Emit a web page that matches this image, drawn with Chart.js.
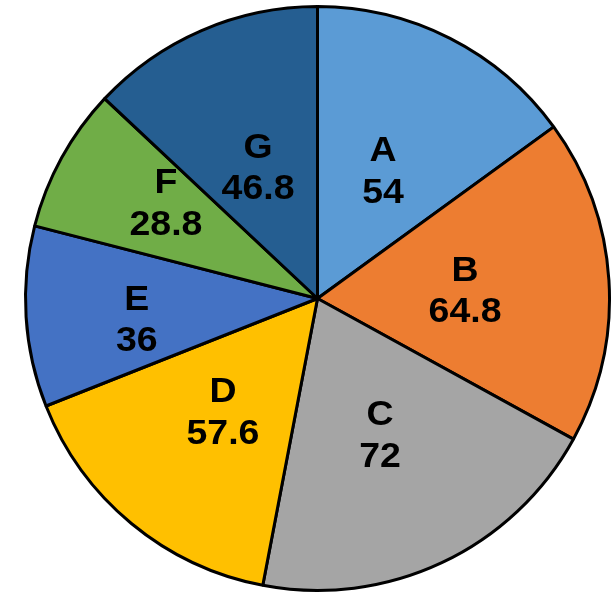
<!DOCTYPE html>
<html>
<head>
<meta charset="utf-8">
<script src="https://cdn.jsdelivr.net/npm/chart.js@4.4.1/dist/chart.umd.min.js"></script>
<style>
  html, body { margin: 0; padding: 0; background: #ffffff; }
  #wrap { position: absolute; left: 0; top: 0; width: 613px; height: 597px; }
</style>
</head>
<body>
<div id="wrap"><canvas id="c" width="613" height="597"></canvas></div>
<script>
const categories = ['A', 'B', 'C', 'D', 'E', 'F', 'G'];
const values = [54, 64.8, 72, 57.6, 36, 28.8, 46.8];
const valueLabels = ['54', '64.8', '72', '57.6', '36', '28.8', '46.8'];
const colors = ['#5B9BD5', '#ED7D31', '#A5A5A5', '#FFC000', '#4472C4', '#70AD47', '#255E91'];
// label placement style (fraction of radius, angle nudge in degrees)
const labelRadiusFrac = [0.489, 0.506, 0.516, 0.507, 0.623, 0.612, 0.491];
const labelAngleNudge = [0.3, 0.7, 0.7, 0.1, -3.2, 3.2, -1.1];

const labelPlugin = {
  id: 'sliceLabels',
  afterDatasetsDraw(chart) {
    const ctx = chart.ctx;
    const meta = chart.getDatasetMeta(0);
    ctx.save();
    ctx.fillStyle = '#000000';
    ctx.font = 'bold 35px "Liberation Sans", Arial, sans-serif';
    ctx.textAlign = 'center';
    ctx.textBaseline = 'middle';
    meta.data.forEach((arc, i) => {
      const p = arc.getProps(['x', 'y', 'startAngle', 'endAngle', 'outerRadius'], true);
      const mid = (p.startAngle + p.endAngle) / 2 + labelAngleNudge[i] * Math.PI / 180;
      const r = p.outerRadius * labelRadiusFrac[i];
      const cx = p.x + Math.cos(mid) * r;
      const cy = p.y + Math.sin(mid) * r;
      ctx.save();
      ctx.translate(cx, cy);
      ctx.scale(1.07, 1);
      ctx.fillText(categories[i], 0, -20);
      ctx.fillText(valueLabels[i], 0, 21.5);
      ctx.restore();
    });
    ctx.restore();
  }
};

new Chart(document.getElementById('c'), {
  type: 'pie',
  data: {
    labels: categories,
    datasets: [{
      data: values,
      backgroundColor: colors,
      borderColor: '#000000',
      borderWidth: 3
    }]
  },
  options: {
    responsive: false,
    animation: false,
    layout: { padding: { left: 24, right: 2, top: 5, bottom: 5 } },
    plugins: { legend: { display: false }, tooltip: { enabled: false } }
  },
  plugins: [labelPlugin]
});
</script>
</body>
</html>
